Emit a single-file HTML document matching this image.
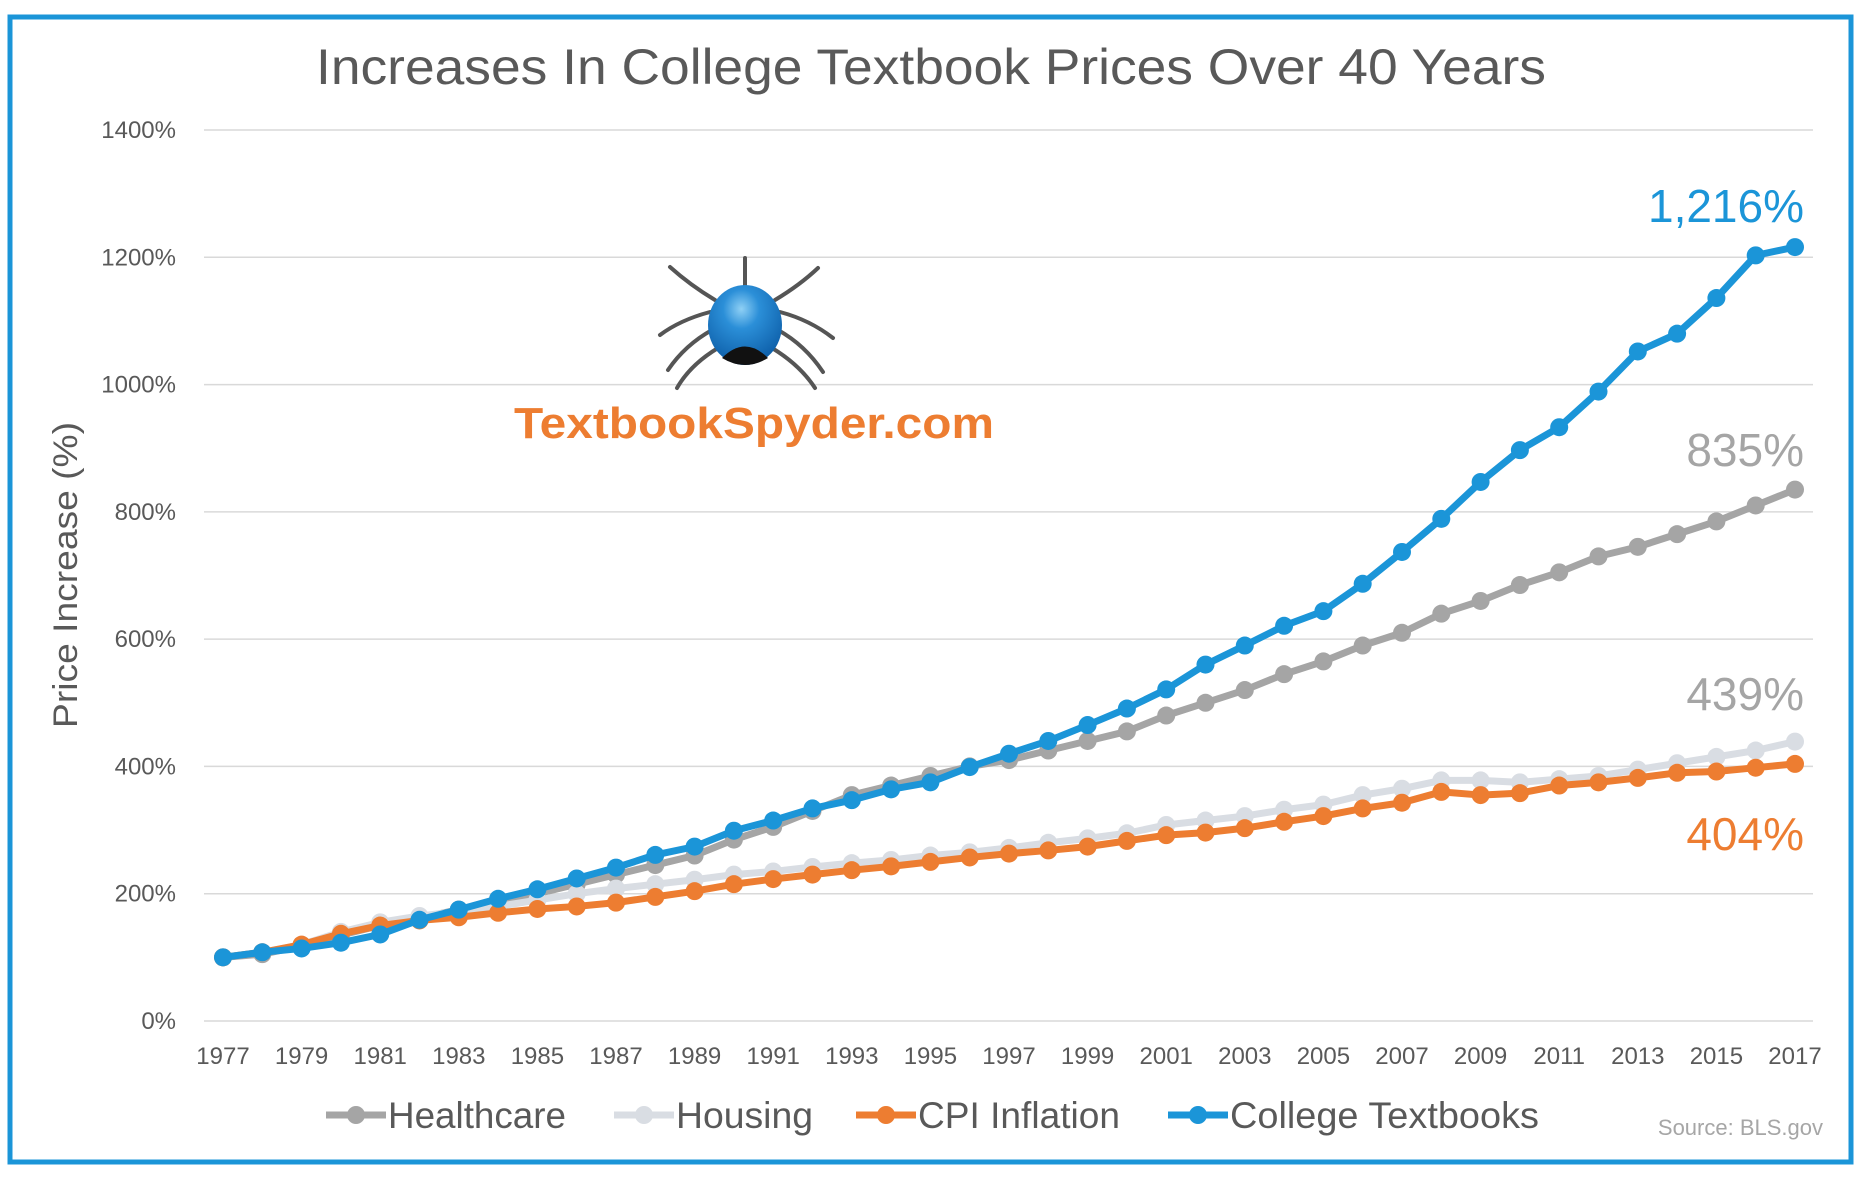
<!DOCTYPE html>
<html><head><meta charset="utf-8">
<style>
html,body{margin:0;padding:0;background:#fff;}
body{width:1860px;height:1172px;overflow:hidden;position:relative;font-family:"Liberation Sans",Arial,sans-serif;}
svg text{font-family:"Liberation Sans",Arial,sans-serif;}
</style></head>
<body>
<svg id="chart" width="1860" height="1172" viewBox="0 0 1860 1172" xmlns="http://www.w3.org/2000/svg">
  <rect x="10" y="17" width="1841" height="1145" fill="#fff" stroke="#1b95d8" stroke-width="5"/>
  <text x="931" y="84" text-anchor="middle" font-size="50" fill="#595959" textLength="1230" lengthAdjust="spacingAndGlyphs">Increases In College Textbook Prices Over 40 Years</text>
  <g id="grid"></g>
  <g id="yticks"></g>
  <g id="xticks"></g>
  <text transform="translate(77,575) rotate(-90)" text-anchor="middle" font-size="34" fill="#595959" textLength="306" lengthAdjust="spacingAndGlyphs">Price Increase (%)</text>
  <g stroke="#555" stroke-width="4" fill="none" stroke-linecap="round">
    <line x1="745" y1="258" x2="745" y2="290"/>
    <path d="M715 300 Q690 285 670 267"/>
    <path d="M775 300 Q800 285 818 268"/>
    <path d="M710 312 Q680 320 660 335"/>
    <path d="M780 312 Q810 320 833 338"/>
    <path d="M712 330 Q685 345 668 370"/>
    <path d="M778 330 Q805 345 823 372"/>
    <path d="M718 348 Q690 365 677 388"/>
    <path d="M772 348 Q800 365 815 388"/>
  </g>
  <defs>
    <radialGradient id="sp" cx="0.45" cy="0.3" r="0.7">
      <stop offset="0" stop-color="#8fd0f5"/><stop offset="0.35" stop-color="#2b8fd8"/><stop offset="1" stop-color="#0d5ea8"/>
    </radialGradient>
  </defs>
  <ellipse cx="745" cy="325" rx="37" ry="40" fill="url(#sp)"/>
  <path d="M722 358 Q745 335 768 358 Q745 372 722 358Z" fill="#111"/>
  <text x="754" y="438" text-anchor="middle" font-size="44" font-weight="bold" fill="#ed7d31" textLength="480" lengthAdjust="spacingAndGlyphs">TextbookSpyder.com</text>
  <g id="series"></g>
  <text x="1804" y="222" text-anchor="end" font-size="46" fill="#1b95d8">1,216%</text>
  <text x="1804" y="466" text-anchor="end" font-size="46" fill="#a5a5a5">835%</text>
  <text x="1804" y="710" text-anchor="end" font-size="46" fill="#a5a5a5">439%</text>
  <text x="1804" y="850" text-anchor="end" font-size="46" fill="#ed7d31">404%</text>
  <g id="legend"></g>
  <text x="1823" y="1135" text-anchor="end" font-size="22" fill="#a6a6a6">Source: BLS.gov</text>
</svg>
<script>
const years = [];
for (let y = 1977; y <= 2017; y++) years.push(y);
const yTicks = [0, 200, 400, 600, 800, 1000, 1200, 1400];
const xTickLabels = [1977,1979,1981,1983,1985,1987,1989,1991,1993,1995,1997,1999,2001,2003,2005,2007,2009,2011,2013,2015,2017];
const healthcare = [100,105,118,135,150,162,175,185,200,215,230,245,260,285,305,330,355,370,385,400,410,425,440,455,480,500,520,545,565,590,610,640,660,685,705,730,745,765,785,810,835];
const housing = [100,108,120,140,155,165,172,180,190,200,208,215,222,230,235,242,248,253,260,265,272,280,287,295,308,315,322,332,340,355,365,378,378,375,380,385,395,405,415,425,439];
const cpi = [100,108,120,137,150,158,163,170,176,180,186,195,204,215,223,230,237,243,250,257,263,268,274,283,292,296,303,313,322,334,343,360,355,358,370,375,382,390,392,398,404];
const textbooks = [100,108,114,123,136,159,175,192,207,224,241,261,274,299,315,334,347,364,375,399,420,440,465,491,521,560,590,621,644,687,737,789,847,897,933,989,1052,1080,1136,1203,1216];

const NS = "http://www.w3.org/2000/svg";
const X0 = 223, X1 = 1795, Y0 = 1021, Y1 = 130;
function xScale(year){ return X0 + (year - 1977) / 40 * (X1 - X0); }
function yScale(v){ return Y0 - v / 1400 * (Y0 - Y1); }
function mk(tag, attrs, parent){ const e = document.createElementNS(NS, tag); for (const k in attrs) e.setAttribute(k, attrs[k]); parent.appendChild(e); return e; }

const grid = document.getElementById('grid');
const yt = document.getElementById('yticks');
yTicks.forEach(v => {
  const l = mk('line', {x1:204, x2:1813, y1:yScale(v), y2:yScale(v), stroke:'#d9d9d9', 'stroke-width':1.5}, grid);
  
  
  const t = mk('text', {x:176, y:yScale(v)+8, 'text-anchor':'end', 'font-size':24, fill:'#595959'}, yt);
  t.textContent = v + '%';
  
  
});
const xt = document.getElementById('xticks');
xTickLabels.forEach(yr => {
  const t = mk('text', {x:xScale(yr), y:1064, 'text-anchor':'middle', 'font-size':24, fill:'#595959'}, xt);
  t.textContent = yr;
  
  
});

const seriesG = document.getElementById('series');
function drawSeries(vals, color, name){
  const g = mk('g', {}, seriesG);
  
  
  const pts = vals.map((v,i) => xScale(years[i]) + ',' + yScale(v)).join(' ');
  const pl = mk('polyline', {points:pts, fill:'none', stroke:color, 'stroke-width':7, 'stroke-linejoin':'round'}, g);
  
  
  vals.forEach((v,i) => {
    const c = mk('circle', {cx:xScale(years[i]), cy:yScale(v), r:9, fill:color}, g);
    
    
  });
}
drawSeries(healthcare, '#a5a5a5', 'healthcare');
drawSeries(housing, '#d9dde3', 'housing');
drawSeries(cpi, '#ed7d31', 'cpi-inflation');
drawSeries(textbooks, '#1b95d8', 'college-textbooks');

const legend = document.getElementById('legend');
const legendItems = [
  {label:'Healthcare', color:'#a5a5a5', x:326, w:178},
  {label:'Housing', color:'#d9dde3', x:614, w:137},
  {label:'CPI Inflation', color:'#ed7d31', x:856, w:202},
  {label:'College Textbooks', color:'#1b95d8', x:1168, w:309}
];
legendItems.forEach(it => {
  const g = mk('g', {}, legend);
  
  
  mk('line', {x1:it.x, x2:it.x+60, y1:1115, y2:1115, stroke:it.color, 'stroke-width':7}, g);
  mk('circle', {cx:it.x+30, cy:1115, r:9, fill:it.color}, g);
  const t = mk('text', {x:it.x+62, y:1128, 'font-size':37, fill:'#595959', textLength:it.w, lengthAdjust:'spacingAndGlyphs'}, g);
  t.textContent = it.label;
});
</script>
</body></html>
